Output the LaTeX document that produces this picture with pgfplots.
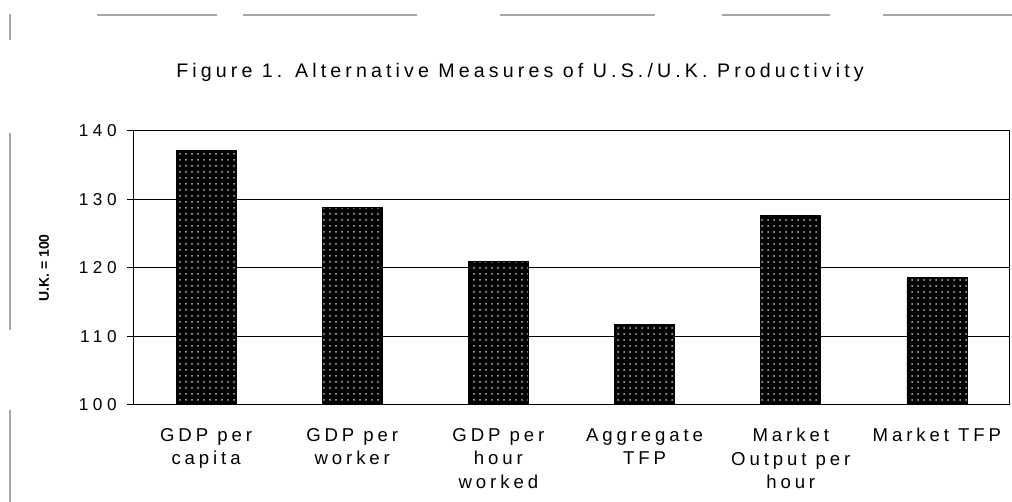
\documentclass[border=0pt]{standalone}
\usepackage{fontspec}
\setmainfont[LetterSpace=21]{Liberation Sans}
\newfontfamily\titlefont[LetterSpace=21]{Liberation Sans}
\newfontfamily\tickfont[LetterSpace=26]{Liberation Sans}
\newfontfamily\plainfont{Liberation Sans}
\usepackage{pgfplots}
\pgfplotsset{compat=1.18}
\usetikzlibrary{patterns}
\begin{document}
\begin{tikzpicture}
\useasboundingbox (0,0) rectangle (506pt,251pt);
\fill[white] (0,0) rectangle (506pt,251pt);
% scan margin lines
\begin{scope}[gray!70, line width=0.6pt]
\draw (48.5pt,243.5pt) -- (108.5pt,243.5pt);
\draw (121.5pt,243.5pt) -- (208.5pt,243.5pt);
\draw (250pt,243.5pt) -- (327.5pt,243.5pt);
\draw (361pt,243.5pt) -- (415pt,243.5pt);
\draw (441.5pt,243.5pt) -- (506pt,243.5pt);
\draw (5pt,244pt) -- (5pt,231pt);
\draw (5pt,184.5pt) -- (5pt,86pt);
\draw (5pt,46pt) -- (5pt,0pt);
\end{scope}
\node[anchor=base, font=\titlefont\fontsize{9.8}{11}\selectfont] at (260pt,212pt) {Figure 1. Alternative Measures of U.S./U.K. Productivity};
\node[rotate=90, font=\plainfont\bfseries\fontsize{7}{8}\selectfont] at (22pt,117pt) {U.K. = 100};
\begin{axis}[
 at={(66.5pt,48.5pt)}, anchor=south west,
 scale only axis, width=438.5pt, height=137pt,
 xmin=-0.5, xmax=5.5, ymin=100, ymax=140,
 ytick={100,110,120,130,140},
 xtick={0,1,2,3,4,5},
 xticklabels={{GDP per\\capita},{GDP per\\worker},{GDP per\\hour\\worked},{Aggregate\\TFP},{Market\\Output per\\hour},{Market TFP}},
 ymajorgrids, grid style={black, line width=0.5pt},
 axis line style={line width=0.5pt},
 tick style={black, line width=0.5pt},
 major tick length=3pt, tick align=outside, ytick pos=left,
 xtick style={draw=none},
 ybar, bar width=30pt,
 /pgf/number format/assume math mode=true,
 yticklabel style={font=\tickfont\fontsize{8.6}{10}\selectfont, inner sep=0pt, anchor=east, xshift=-5pt},
 xticklabel style={font=\fontsize{9.3}{11.75}\selectfont, align=center, anchor=north, inner sep=0pt, yshift=-8.5pt},
]
\addplot[fill=black, draw=black, postaction={pattern=dots, pattern color=gray!55}] coordinates {(0,137.1) (1,128.9) (2,120.9) (3,111.8) (4,127.7) (5,118.6)};
\end{axis}
\end{tikzpicture}
\end{document}
